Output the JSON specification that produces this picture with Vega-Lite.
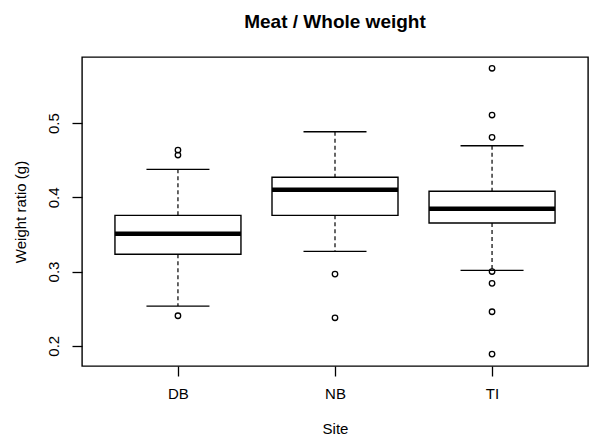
{
  "$schema": "https://vega.github.io/schema/vega-lite/v6.json",
  "autosize": {"type": "none"},
  "padding": {"left": 82, "top": 57, "right": 1, "bottom": 79},
  "width": 506,
  "height": 309,
  "background": "white",
  "title": {
    "text": "Meat / Whole weight",
    "font": "Liberation Sans",
    "fontSize": 19,
    "fontWeight": "bold",
    "color": "#000",
    "anchor": "middle",
    "baseline": "alphabetic",
    "offset": 10
  },
  "config": {
    "view": {"stroke": "#000", "strokeWidth": 1.4},
    "axis": {
      "labelFont": "Liberation Sans",
      "titleFont": "Liberation Sans",
      "labelFontSize": 15,
      "titleFontSize": 15,
      "titleFontWeight": "normal",
      "labelColor": "#000",
      "titleColor": "#000",
      "domain": false,
      "grid": false,
      "tickColor": "#000",
      "tickSize": 10,
      "tickWidth": 1.3
    }
  },
  "datasets": {
    "stats": [
      {"site": "DB", "lower": 0.2535, "q1": 0.3232, "median": 0.3509, "q3": 0.3757, "upper": 0.4377},
      {"site": "NB", "lower": 0.3272, "q1": 0.3757, "median": 0.4102, "q3": 0.4270, "upper": 0.4884},
      {"site": "TI", "lower": 0.3016, "q1": 0.3654, "median": 0.3846, "q3": 0.4081, "upper": 0.4695}
    ],
    "outliers": [
      {"site": "DB", "value": 0.4637},
      {"site": "DB", "value": 0.4570},
      {"site": "DB", "value": 0.2404},
      {"site": "NB", "value": 0.2966},
      {"site": "NB", "value": 0.2377},
      {"site": "TI", "value": 0.5739},
      {"site": "TI", "value": 0.5109},
      {"site": "TI", "value": 0.4809},
      {"site": "TI", "value": 0.3000},
      {"site": "TI", "value": 0.2841},
      {"site": "TI", "value": 0.2458},
      {"site": "TI", "value": 0.1888}
    ]
  },
  "encoding": {
    "x": {
      "field": "site",
      "type": "nominal",
      "scale": {"type": "point", "padding": 0.611, "domain": ["DB", "NB", "TI"]},
      "axis": {"title": "Site", "labelAngle": 0, "labelPadding": 10, "titlePadding": 20}
    }
  },
  "layer": [
    {
      "data": {"name": "stats"},
      "mark": {"type": "rule", "strokeDash": [4, 3], "strokeWidth": 1.2, "color": "#000"},
      "encoding": {
        "y": {
          "field": "upper",
          "type": "quantitative",
          "scale": {"domain": [0.1727, 0.5891], "nice": false, "zero": false},
          "axis": {
            "title": "Weight ratio (g)",
            "values": [0.2, 0.3, 0.4, 0.5],
            "format": ".1f",
            "labelAngle": -90,
            "labelAlign": "center",
            "labelBaseline": "bottom",
            "labelPadding": 11,
            "titlePadding": 18
          }
        },
        "y2": {"field": "q3"}
      }
    },
    {
      "data": {"name": "stats"},
      "mark": {"type": "rule", "strokeDash": [4, 3], "strokeWidth": 1.2, "color": "#000"},
      "encoding": {
        "y": {"field": "q1", "type": "quantitative"},
        "y2": {"field": "lower"}
      }
    },
    {
      "data": {"name": "stats"},
      "mark": {"type": "tick", "orient": "horizontal", "size": 63, "thickness": 1.3, "color": "#000", "opacity": 1},
      "encoding": {"y": {"field": "upper", "type": "quantitative"}}
    },
    {
      "data": {"name": "stats"},
      "mark": {"type": "tick", "orient": "horizontal", "size": 63, "thickness": 1.3, "color": "#000", "opacity": 1},
      "encoding": {"y": {"field": "lower", "type": "quantitative"}}
    },
    {
      "data": {"name": "stats"},
      "mark": {"type": "bar", "width": 126, "fill": "white", "stroke": "#000", "strokeWidth": 1.4},
      "encoding": {
        "y": {"field": "q1", "type": "quantitative"},
        "y2": {"field": "q3"}
      }
    },
    {
      "data": {"name": "stats"},
      "mark": {"type": "tick", "orient": "horizontal", "size": 126, "thickness": 4.5, "color": "#000", "opacity": 1},
      "encoding": {"y": {"field": "median", "type": "quantitative"}}
    },
    {
      "data": {"name": "outliers"},
      "mark": {"type": "point", "shape": "circle", "filled": false, "size": 30, "stroke": "#000", "strokeWidth": 1.3, "opacity": 1},
      "encoding": {"y": {"field": "value", "type": "quantitative"}}
    }
  ]
}
